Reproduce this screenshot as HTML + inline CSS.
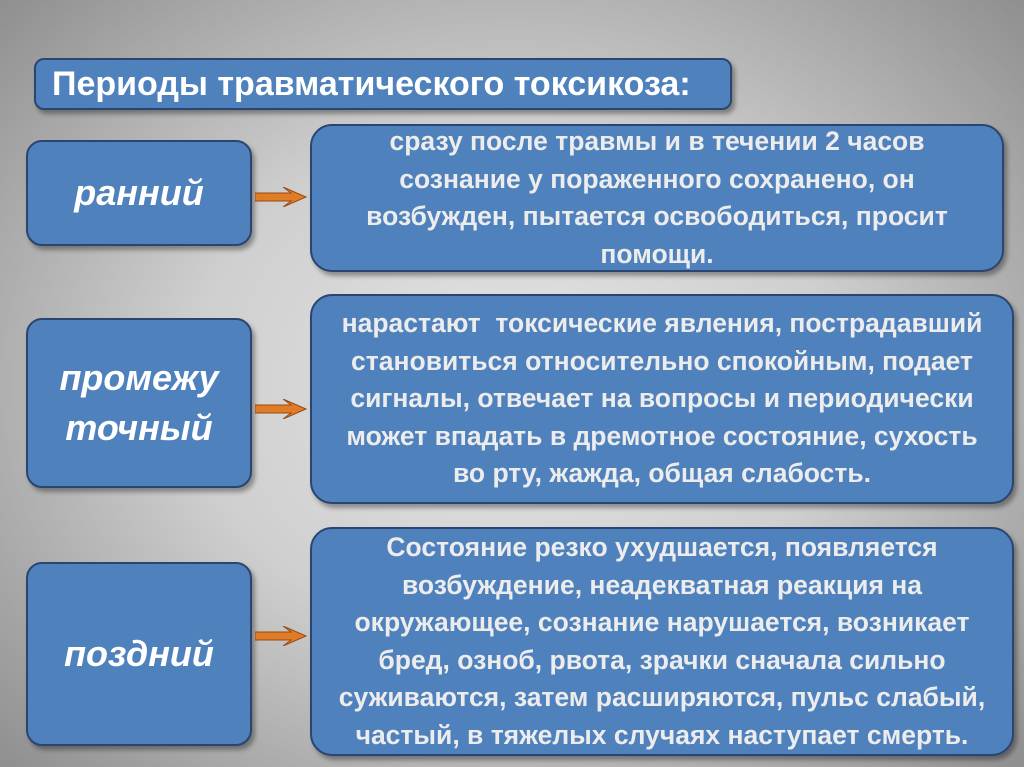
<!DOCTYPE html>
<html><head><meta charset="utf-8"><style>
body{margin:0;width:1024px;height:767px;overflow:hidden;font-family:"Liberation Sans","DejaVu Sans",sans-serif;
background:radial-gradient(ellipse 70% 75% at 50% 50%,#e4e4e4 0%,#cfcfcf 45%,#8c8c8c 100%);position:relative}
.b{position:absolute;background:#4f81bd;border:2px solid #2a4670;border-radius:16px;box-shadow:3px 4px 5px rgba(0,0,0,.35);box-sizing:border-box;color:#fff;font-weight:bold;display:flex;align-items:center;justify-content:center;text-align:center;white-space:nowrap}
.t{left:34px;top:58px;width:698px;height:52px;border-radius:10px;font-size:34px;justify-content:flex-start;padding-left:16px}
.l{left:26px;width:226px;font-size:36px;font-style:italic;line-height:50px}
.r{left:310px;font-size:26.5px;line-height:37.5px;color:#ececec;border-radius:22px}
.a{position:absolute;left:255px;width:52px;height:20px}
</style></head><body>
<div class="b t">Периоды травматического токсикоза:</div>
<div class="b l" style="top:140px;height:106px">ранний</div>
<div class="b l" style="top:318px;height:170px">промежу<br>точный</div>
<div class="b l" style="top:562px;height:184px">поздний</div>
<div class="b r" style="top:124px;width:694px;height:148px">сразу после травмы и в течении 2 часов<br>сознание у пораженного сохранено, он<br>возбужден, пытается освободиться, просит<br>помощи.</div>
<div class="b r" style="top:294px;width:704px;height:210px">нарастают&nbsp; токсические явления, пострадавший<br>становиться относительно спокойным, подает<br>сигналы, отвечает на вопросы и периодически<br>может впадать в дремотное состояние, сухость<br>во рту, жажда, общая слабость.</div>
<div class="b r" style="top:527px;width:704px;height:229px">Состояние резко ухудшается, появляется<br>возбуждение, неадекватная реакция на<br>окружающее, сознание нарушается, возникает<br>бред, озноб, рвота, зрачки сначала сильно<br>суживаются, затем расширяются, пульс слабый,<br>частый, в тяжелых случаях наступает смерть.</div>
<svg class="a" style="top:187px" viewBox="0 0 52 20"><path d="M0 6H36L28 0L51 10L28 20L36 14H0Z" fill="#e07b28" stroke="#9a4a10" stroke-width="1"/></svg>
<svg class="a" style="top:399px" viewBox="0 0 52 20"><path d="M0 6H36L28 0L51 10L28 20L36 14H0Z" fill="#e07b28" stroke="#9a4a10" stroke-width="1"/></svg>
<svg class="a" style="top:626px" viewBox="0 0 52 20"><path d="M0 6H36L28 0L51 10L28 20L36 14H0Z" fill="#e07b28" stroke="#9a4a10" stroke-width="1"/></svg>
</body></html>
